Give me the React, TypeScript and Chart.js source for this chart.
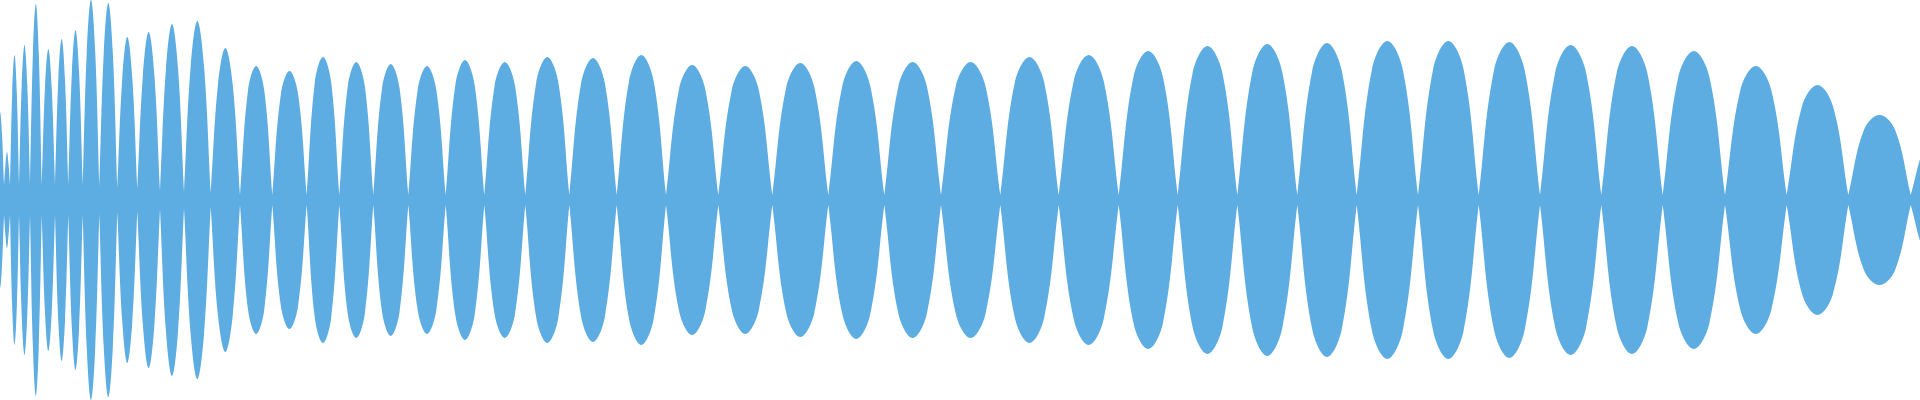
import React, { useEffect, useRef } from "react";
import { Chart, registerables } from "chart.js";

Chart.register(...registerables);

// Zero-crossing positions of the envelope (x, in sample units 0..1920)
const boundaries = [
  -4, 4, 10, 19, 30, 41.7, 55, 68.3, 82.7, 99.3, 117.3, 137.3, 160, 184, 210.7,
  240, 272.3, 306.7, 339.3, 373.3, 408.3, 445.7, 484.3, 525.3, 569.3, 616.7,
  666, 718.3, 772.3, 828.3, 884.3, 941, 1000.3, 1058.7, 1118.7, 1177.7, 1237.3,
  1297.3, 1356.7, 1418, 1478.7, 1540, 1601.3, 1662.7, 1725, 1786.7, 1848.3,
  1910.7, 1972,
];

// Residual amplitude at each zero crossing
const troughs = [
  15, 15, 15, 15, 15, 15, 15, 15, 15, 14, 12, 11, 9, 8, 7,
  5, 5, 5, 5, 5, 5, 5, 5, 5, 5, 5, 5, 5, 5, 5, 5, 5, 5, 5, 5, 5, 5,
  5, 5, 5, 5, 5, 5, 5, 5, 5, 5, 5, 5,
];

// Peak amplitude of each lobe (between consecutive boundaries)
const peaks = [
  88, 48, 145, 155, 196, 151, 161, 170, 200, 197, 163, 168, 176, 179, 152,
  134, 129, 143, 138, 136, 134, 140, 138, 143, 142, 145, 135, 134, 137, 139,
  138, 138, 143, 145, 149, 154, 156, 157, 159, 159, 158, 155, 154, 149, 134,
  115, 85, 68,
];

// Amplitude of each lobe at a quarter of its width from either zero crossing
const shoulders = [
  66, 36, 109, 116, 147, 113, 121, 128, 150, 148, 122, 126, 132, 134, 116,
  110, 106, 118, 114, 112, 110, 115, 114, 118, 117, 119, 111, 110, 113, 114,
  114, 114, 118, 119, 123, 127, 128, 129, 131, 131, 130, 128, 127, 123, 110,
  94, 70, 56,
];

const COLOR = "#5DADE2";

function buildEnvelope(sign: number) {
  const pts: { x: number; y: number }[] = [];
  for (let i = 0; i < boundaries.length; i++) {
    const b = boundaries[i];
    const t = troughs[i];
    pts.push({ x: b, y: sign * t });
    pts.push({ x: b, y: sign * t });
    if (i < peaks.length) {
      const e = boundaries[i + 1];
      const q = (e - b) / 4;
      pts.push({ x: b + q, y: sign * shoulders[i] });
      pts.push({ x: b + 2 * q, y: sign * peaks[i] });
      pts.push({ x: b + 3 * q, y: sign * shoulders[i] });
    }
  }
  return pts;
}

export default function App() {
  const ref = useRef<HTMLCanvasElement | null>(null);

  useEffect(() => {
    if (!ref.current) return;
    const common = {
      borderWidth: 0,
      pointRadius: 0,
      pointHoverRadius: 0,
      backgroundColor: COLOR,
      borderColor: COLOR,
      fill: "origin" as const,
      tension: 0.38,
    };
    const chart = new Chart(ref.current, {
      type: "line",
      data: {
        datasets: [
          { ...common, data: buildEnvelope(1) },
          { ...common, data: buildEnvelope(-1) },
        ],
      },
      options: {
        animation: false,
        responsive: false,
        devicePixelRatio: 1,
        layout: { padding: 0 },
        events: [],
        plugins: {
          legend: { display: false },
          tooltip: { enabled: false },
        },
        scales: {
          x: { type: "linear", min: 0, max: 1920, display: false },
          y: { min: -200, max: 200, display: false },
        },
      },
    });
    return () => chart.destroy();
  }, []);

  return (
    <div
      style={{
        position: "fixed",
        left: 0,
        top: 0,
        width: 1920,
        height: 400,
        background: "#ffffff",
      }}
    >
      <canvas ref={ref} width={1920} height={400} style={{ display: "block" }} />
    </div>
  );
}
